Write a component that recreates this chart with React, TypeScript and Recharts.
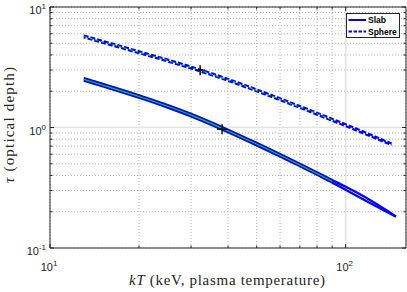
import React from "react";
import {
  LineChart,
  Line,
  XAxis,
  YAxis,
  CartesianGrid,
  ReferenceLine,
  ReferenceDot,
} from "recharts";

// plot box (svg px)
const PLOT = { left: 50, right: 406, top: 7, bottom: 248 };
const INK = "#262626";
const BLUE = "#0000ff";
const GREEN = "#10d010";

const slabKT = [13, 15, 20, 25, 30, 40, 50, 60, 70, 80, 90, 100, 120, 148];
const slabUpper = [2.57, 2.31, 1.85, 1.534, 1.297, 0.959, 0.745, 0.602, 0.501, 0.425, 0.367, 0.322, 0.253, 0.183];
const slabLower = [2.45, 2.202, 1.765, 1.463, 1.237, 0.915, 0.711, 0.574, 0.478, 0.405, 0.35, 0.304, 0.2385, 0.1815];
const slabFit = [2.51, 2.255, 1.807, 1.498, 1.267, 0.937, 0.728, 0.588, 0.489, 0.415, 0.358, null, null, null];

const sphereKT = [13, 15, 20, 25, 30, 40, 50, 60, 70, 80, 90, 100, 120, 143];
const sphereUpper = [5.8, 5.25, 4.29, 3.66, 3.2, 2.53, 2.07, 1.747, 1.509, 1.325, 1.181, 1.064, 0.885, 0.735];
const sphereLower = [5.6, 5.066, 4.142, 3.535, 3.089, 2.441, 1.997, 1.686, 1.456, 1.279, 1.139, 1.027, 0.854, 0.717];
const sphereFit = [5.7, 5.157, 4.217, 3.599, 3.145, 2.485, 2.033, 1.716, 1.482, 1.302, 1.16, null, null, null];

// tau = 1 (slab) and tau = 3 (sphere) crossings
const markKT = [32.2, 38.2];
const markTau = [2.99, 0.968];

const xTicks = [10, 20, 30, 40, 50, 60, 70, 80, 90, 100];
const yTicks = [0.1, 0.2, 0.3, 0.4, 0.5, 0.6, 0.7, 0.8, 0.9, 1, 2, 3, 4, 5, 6, 7, 8, 9, 10];

const slabRows = slabKT.map((kT, i) => ({
  kT,
  upper: slabUpper[i],
  lower: slabLower[i],
  fit: slabFit[i],
}));
const sphereRows = sphereKT.map((kT, i) => ({
  kT,
  upper: sphereUpper[i],
  lower: sphereLower[i],
  fit: sphereFit[i],
}));

const decade = (v: number) => {
  const e = Math.round(Math.log10(v));
  return Math.abs(Math.log10(v) - e) < 1e-6 ? e : null;
};

const tickFont = "'Liberation Sans', Arial, sans-serif";
const labelFont = "'Liberation Serif', serif";

const XTick = (props: any) => {
  const { x, payload } = props;
  const e = decade(payload.value);
  const len = e !== null ? 4 : 2.5;
  return (
    <g>
      <line x1={x} x2={x} y1={PLOT.bottom} y2={PLOT.bottom - len} stroke={INK} />
      <line x1={x} x2={x} y1={PLOT.top} y2={PLOT.top + len} stroke={INK} />
      {e !== null && (
        <text x={x - 1} y={271} textAnchor="middle" fontFamily={tickFont} fontSize={11} fill={INK}>
          10
          <tspan dy={-5} fontSize={8}>
            {e}
          </tspan>
        </text>
      )}
    </g>
  );
};

const YTick = (props: any) => {
  const { y, payload } = props;
  const e = decade(payload.value);
  const len = e !== null ? 4 : 2.5;
  return (
    <g>
      <line x1={PLOT.left} x2={PLOT.left + len} y1={y} y2={y} stroke={INK} />
      <line x1={PLOT.right - len} x2={PLOT.right} y1={y} y2={y} stroke={INK} />
      {e !== null && (
        <text x={46} y={y + 7} textAnchor="end" fontFamily={tickFont} fontSize={11} fill={INK}>
          10
          <tspan dy={-5} fontSize={8}>
            {e}
          </tspan>
        </text>
      )}
    </g>
  );
};

const Plus = (props: any) => {
  const { cx, cy } = props;
  return (
    <g stroke="#111" strokeWidth={1.5}>
      <line x1={cx - 5} x2={cx + 5} y1={cy} y2={cy} />
      <line x1={cx} x2={cx} y1={cy - 5} y2={cy + 5} />
    </g>
  );
};

const Legend = () => (
  <div
    style={{
      position: "absolute",
      left: 346,
      top: 13,
      width: 54,
      height: 25,
      boxSizing: "border-box",
      border: `1px solid ${INK}`,
      background: "#fff",
    }}
  >
    <svg width={52} height={23} style={{ display: "block" }}>
      <line x1={1.5} x2={19} y1={6} y2={6} stroke={BLUE} strokeWidth={2} />
      <text x={21} y={9} fontFamily={tickFont} fontWeight="bold" fontSize={8.5} fill="#000">
        Slab
      </text>
      <line x1={1.5} x2={19} y1={17.5} y2={17.5} stroke={BLUE} strokeWidth={2} strokeDasharray="3.5 1.5" />
      <text x={21} y={20.5} fontFamily={tickFont} fontWeight="bold" fontSize={8.5} fill="#000">
        Sphere
      </text>
    </svg>
  </div>
);

export default function App() {
  return (
    <div style={{ position: "absolute", left: 0, top: 0, width: 407, height: 292, background: "#fff" }}>
      <LineChart width={407} height={292} margin={{ top: 7, right: 1, bottom: 0, left: 0 }}>
        <CartesianGrid stroke="#b4b4b4" strokeDasharray="1 2" />
        <XAxis
          dataKey="kT"
          type="number"
          scale="log"
          domain={[10, 160]}
          ticks={xTicks}
          interval={0}
          allowDataOverflow
          height={44}
          tickLine={false}
          axisLine={{ stroke: INK }}
          tick={<XTick />}
        />
        <YAxis
          type="number"
          scale="log"
          domain={[0.1, 10]}
          ticks={yTicks}
          interval={0}
          allowDataOverflow
          width={50}
          tickLine={false}
          axisLine={{ stroke: INK }}
          tick={<YTick />}
        />
        <ReferenceLine y={1} stroke="#e2e2e2" strokeWidth={1.5} />
        <ReferenceLine x={100} stroke="#e2e2e2" strokeWidth={1.5} />
        <ReferenceLine y={10} stroke={INK} />
        <ReferenceLine x={160} stroke={INK} />

        <Line data={slabRows} dataKey="upper" type="monotone" stroke={BLUE} strokeWidth={2.3} dot={false} isAnimationActive={false} />
        <Line data={slabRows} dataKey="lower" type="monotone" stroke={BLUE} strokeWidth={2.3} dot={false} isAnimationActive={false} />
        <Line data={slabRows} dataKey="fit" type="monotone" stroke={GREEN} strokeWidth={1.1} dot={false} isAnimationActive={false} />

        <Line data={sphereRows} dataKey="upper" type="monotone" stroke={BLUE} strokeWidth={2.2} strokeDasharray="5 2" dot={false} isAnimationActive={false} />
        <Line data={sphereRows} dataKey="lower" type="monotone" stroke={BLUE} strokeWidth={2.2} strokeDasharray="5 2" strokeDashoffset={3} dot={false} isAnimationActive={false} />
        <Line data={sphereRows} dataKey="fit" type="monotone" stroke={GREEN} strokeWidth={1.1} strokeDasharray="3 3" dot={false} isAnimationActive={false} />

        {markKT.map((k, i) => (
          <ReferenceDot key={k} x={k} y={markTau[i]} shape={<Plus />} />
        ))}
      </LineChart>

      <svg width={407} height={292} style={{ position: "absolute", left: 0, top: 0, pointerEvents: "none" }}>
        <text
          x={227}
          y={285}
          textAnchor="middle"
          fontFamily={labelFont}
          fontSize={15}
          textLength={196}
          lengthAdjust="spacing"
          fill={INK}
        >
          <tspan fontStyle="italic">kT</tspan> (keV, plasma temperature)
        </text>
        <text
          transform="translate(14,125) rotate(-90)"
          textAnchor="middle"
          fontFamily={labelFont}
          fontSize={15}
          textLength={116}
          lengthAdjust="spacing"
          fill={INK}
        >
          <tspan fontStyle="italic">τ</tspan> (optical depth)
        </text>
      </svg>
      <Legend />
    </div>
  );
}
